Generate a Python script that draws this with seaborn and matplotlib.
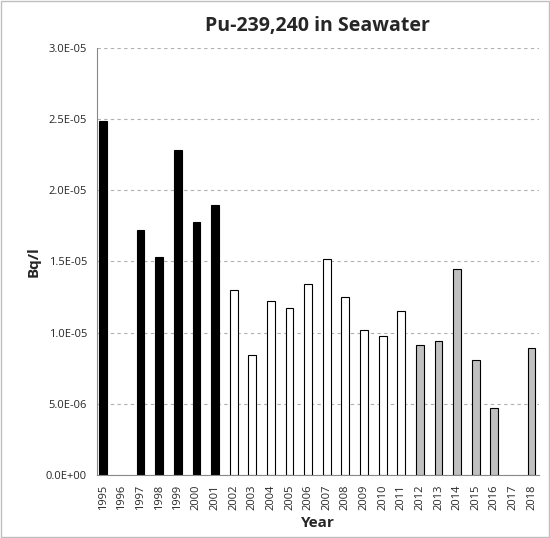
import matplotlib
matplotlib.use("Agg")
import matplotlib.pyplot as plt
import seaborn as sns
import pandas as pd
import numpy as np

years = [str(y) for y in range(1995, 2019)]
values = [2.49e-5, np.nan, 1.72e-5, 1.53e-5, 2.28e-5, 1.78e-5, 1.90e-5,
          1.30e-5, 0.84e-5, 1.22e-5, 1.17e-5, 1.34e-5, 1.52e-5, 1.25e-5,
          1.02e-5, 0.98e-5, 1.15e-5, 0.91e-5, 0.94e-5, 1.45e-5, 0.81e-5,
          0.47e-5, np.nan, 0.89e-5]
groups = ["A"] * 7 + ["B"] * 10 + ["C"] * 7
palette = {"A": "black", "B": "white", "C": "#c0c0c0"}

df = pd.DataFrame({"Year": years, "Bq": values, "g": groups})

sns.set_style("white")
plt.rcParams['font.family'] = ['Open Sans', 'DejaVu Sans']
fig = plt.figure(figsize=(5.5, 5.38), dpi=100)
fig.patches.append(plt.Rectangle((0.002, 0.002), 0.996, 0.996, transform=fig.transFigure,
                                 fill=False, edgecolor="#bfbfbf", lw=1))
ax = fig.add_axes([0.176, 0.117, 0.804, 0.794])
sns.barplot(data=df, x="Year", y="Bq", hue="g", palette=palette, dodge=False,
            width=0.42, edgecolor="black", linewidth=0.8, legend=False, ax=ax)
ax.set_xlim(-0.35, 23.4)
ax.set_ylim(0, 3e-5)
ax.set_yticks(np.arange(0, 3.01e-5, 0.5e-5))
ax.set_yticklabels([f"{v:.1E}" for v in np.arange(0, 3.01e-5, 0.5e-5)], fontsize=8)
ax.yaxis.grid(True, linestyle=(0, (3, 3)), color="#b0b0b0", lw=0.8)
ax.set_axisbelow(True)
ax.tick_params(axis="x", rotation=90, labelsize=8)
for s in ["top", "right"]:
    ax.spines[s].set_visible(False)
for s in ["left", "bottom"]:
    ax.spines[s].set_color("#888888")
ax.set_xlabel("Year", fontsize=11, fontweight="bold")
ax.set_ylabel("Bq/l", fontsize=11, fontweight="bold")
ax.set_title("Pu-239,240 in Seawater", fontsize=14, fontweight="bold", pad=12)
fig.savefig("out.png", dpi=100)
